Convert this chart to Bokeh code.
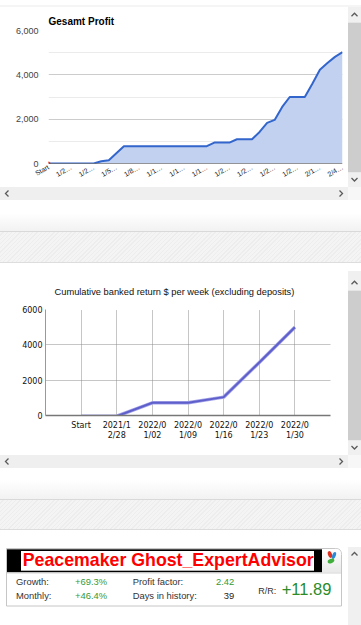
import math
from bokeh.plotting import figure
from bokeh.models import Range1d, FixedTicker, NumeralTickFormatter, Span, Div
from bokeh.layouts import column, row
from bokeh.embed import file_html
from bokeh.resources import INLINE

# ---------------- data ----------------
# Chart 1: "Gesamt Profit" (cumulative profit per step)
profit_index = list(range(40))
profit_values = [0, 0, 0, 0, 0, 0, 0, 100, 150, 465,
                 780, 780, 780, 780, 780, 780, 780, 780, 780, 780,
                 780, 780, 945, 945, 945, 1095, 1095, 1095, 1425, 1830,
                 1965, 2550, 3000, 3000, 3000, 3600, 4230, 4530, 4810, 5020]
profit_tick_pos = [0, 3, 6, 9, 12, 15, 18, 21, 24, 27, 30, 33, 36, 39]
profit_tick_labels = ["Start", "1/2…", "1/2…", "1/5…", "1/8…", "1/1…", "1/1…",
                      "1/1…", "1/2…", "1/2…", "1/2…", "1/2…", "2/1…", "2/4…"]
profit_y_ticks = [0, 2000, 4000, 6000]
profit_y_minor = [1000, 3000, 5000]

# Chart 2: cumulative banked return $ per week
weekly_labels = ["Start", "2021/1\n2/28", "2022/0\n1/02", "2022/0\n1/09",
                 "2022/0\n1/16", "2022/0\n1/23", "2022/0\n1/30"]
weekly_values = [-40, -40, 720, 720, 1040, 3000, 5000]
weekly_y_ticks = [0, 2000, 4000, 6000]

# Stats box
ea_name = "Peacemaker Ghost_ExpertAdvisor"
stat_growth = "+69.3%"
stat_monthly = "+46.4%"
stat_profit_factor = "2.42"
stat_days = "39"
stat_rr = "+11.89"

# ---------------- chart 1 ----------------
p1 = figure(width=348, height=180, x_range=Range1d(0, 39), y_range=Range1d(0, 6000),
            output_backend="svg", toolbar_location=None, title="Gesamt Profit",
            min_border_left=48, min_border_right=6, min_border_top=23, min_border_bottom=24)
p1.title.align = "left"
p1.title.text_font = "Liberation Sans"
p1.title.text_font_style = "bold"
p1.title.text_font_size = "10px"
p1.title.text_color = "#000000"
p1.title.standoff = 8
p1.outline_line_color = None
p1.background_fill_color = "white"
p1.border_fill_color = "white"
p1.varea(x=profit_index, y1=[0] * len(profit_index), y2=profit_values, fill_color="#c2d1f0")
p1.line(profit_index, profit_values, line_color="#3366cc", line_width=2)
p1.add_layout(Span(location=0, dimension="width", line_color="#333333", line_width=1))
p1.scatter([profit_index[0]], [profit_values[0]], size=3, color="#ff2a00")

p1.xaxis.ticker = FixedTicker(ticks=profit_tick_pos)
p1.xaxis.major_label_overrides = {t: l for t, l in zip(profit_tick_pos, profit_tick_labels)}
p1.xaxis.major_label_orientation = math.pi / 6
p1.xaxis.axis_line_color = None
p1.xaxis.major_tick_line_color = None
p1.xaxis.minor_tick_line_color = None
p1.xaxis.major_tick_out = 0
p1.xaxis.minor_tick_out = 0
p1.xaxis.major_label_standoff = 3
p1.xaxis.major_label_text_font = "Liberation Sans"
p1.xaxis.major_label_text_font_size = "7px"
p1.xaxis.major_label_text_color = "#222222"

p1.yaxis.ticker = FixedTicker(ticks=profit_y_ticks, minor_ticks=profit_y_minor)
p1.yaxis.formatter = NumeralTickFormatter(format="0,0")
p1.yaxis.axis_line_color = None
p1.yaxis.major_tick_line_color = None
p1.yaxis.minor_tick_line_color = None
p1.yaxis.major_tick_out = 0
p1.yaxis.minor_tick_out = 0
p1.yaxis.major_label_standoff = 10
p1.yaxis.major_label_text_font = "Liberation Sans"
p1.yaxis.major_label_text_font_size = "9px"
p1.yaxis.major_label_text_color = "#444444"
p1.xgrid.grid_line_color = None
p1.ygrid.grid_line_color = "#cccccc"
p1.ygrid.minor_grid_line_color = "#ebebeb"

# ---------------- chart 2 ----------------
wx = list(range(len(weekly_labels)))
p2 = figure(width=348, height=184, x_range=Range1d(-1, len(weekly_labels)), y_range=Range1d(0, 6000),
            output_backend="svg", toolbar_location=None,
            title="Cumulative banked return $ per week (excluding deposits)",
            min_border_left=45, min_border_right=18, min_border_top=38, min_border_bottom=40)
p2.title.align = "left"
p2.title.offset = 9
p2.title.text_font = "Liberation Sans"
p2.title.text_font_style = "normal"
p2.title.text_font_size = "9.3px"
p2.title.text_color = "#111111"
p2.title.standoff = 26
p2.outline_line_color = None
p2.background_fill_color = "white"
p2.border_fill_color = "white"
p2.line(wx, weekly_values, line_color="#a3a3e8", line_width=3.5)
p2.line(wx, weekly_values, line_color="#5f5fcc", line_width=2)

p2.xaxis.ticker = FixedTicker(ticks=wx)
p2.xaxis.major_label_overrides = {t: l for t, l in zip(wx, weekly_labels)}
p2.xaxis.axis_line_color = "#777777"
p2.xaxis.axis_line_width = 1.5
p2.xaxis.major_tick_line_color = None
p2.xaxis.minor_tick_line_color = None
p2.xaxis.major_tick_out = 0
p2.xaxis.minor_tick_out = 0
p2.xaxis.major_label_standoff = 5
p2.xaxis.major_label_text_font = "DejaVu Sans"
p2.xaxis.major_label_text_font_size = "8px"
p2.xaxis.major_label_text_color = "#111111"

p2.yaxis.ticker = FixedTicker(ticks=weekly_y_ticks)
p2.yaxis.axis_line_color = "#999999"
p2.yaxis.major_tick_line_color = None
p2.yaxis.minor_tick_line_color = None
p2.yaxis.major_tick_out = 0
p2.yaxis.minor_tick_out = 0
p2.yaxis.major_label_standoff = 3
p2.yaxis.major_label_text_font = "DejaVu Sans"
p2.yaxis.major_label_text_font_size = "8px"
p2.yaxis.major_label_text_color = "#111111"

p2.xgrid.ticker = FixedTicker(ticks=wx + [len(weekly_labels)])
p2.xgrid.grid_line_color = "#8c8c8c"
p2.xgrid.grid_line_dash = "1 1"
p2.ygrid.ticker = FixedTicker(ticks=[2000, 4000, 6000])
p2.ygrid.grid_line_color = "#8c8c8c"
p2.ygrid.grid_line_dash = "1 1"

# ---------------- page chrome ----------------
CH = "#5a5a5a"


def vscroll(h, thumb=True, top=15.7, tlen=149.5):
    t = f'<rect x="0" y="{top}" width="13" height="{tlen}" fill="#cdcdcd"/>' if thumb else ''
    up_y = top - 8
    down = (f'<polyline points="3.5,{h-9} 6.5,{h-6} 9.5,{h-9}" fill="none" stroke="{CH}" stroke-width="1.3"/>'
            if thumb else '')
    svg = (f'<svg width="13" height="{h}" style="display:block">'
           f'<rect x="0" y="0" width="13" height="{h}" fill="#f0f0f0"/>{t}'
           f'<polyline points="3.5,{up_y+1.5} 6.5,{up_y-1.5} 9.5,{up_y+1.5}" fill="none" stroke="{CH}" stroke-width="1.3"/>'
           f'{down}</svg>')
    return Div(text=svg, width=13, height=h, margin=0, styles={"overflow": "hidden"})


def hscroll():
    svg = ('<svg width="361" height="13" style="display:block">'
           '<rect x="0" y="0" width="348" height="13" fill="#efefef"/>'
           '<rect x="348" y="0" width="13" height="13" fill="#f7f7f7"/>'
           f'<polyline points="8.5,3.5 5.5,6.5 8.5,9.5" fill="none" stroke="{CH}" stroke-width="1.3"/>'
           f'<polyline points="339.5,3.5 342.5,6.5 339.5,9.5" fill="none" stroke="{CH}" stroke-width="1.3"/>'
           '</svg>')
    return Div(text=svg, width=361, height=13, margin=0, styles={"overflow": "hidden"})


def sep(w1, g, hh, w2):
    total = w1 + g + hh + 2 + w2
    html = (f'<div style="width:361px;height:{w1}px;background:#ffffff"></div>'
            f'<div style="width:361px;height:{g}px;background:linear-gradient(#ffffff,#f2f2f2)"></div>'
            f'<div style="width:361px;height:{hh}px;border-top:1px solid #d9d9d9;border-bottom:1px solid #dddddd;'
            'background:repeating-linear-gradient(135deg,#f4f4f4 0px,#f4f4f4 2px,#ededed 2px,#ededed 3px)"></div>'
            f'<div style="width:361px;height:{w2}px;background:#ffffff"></div>')
    return Div(text=html, width=361, height=total, margin=0, styles={"overflow": "hidden"})


top_strip = Div(text='<div style="width:361px;height:7px;background:#f5f5f5"></div>',
                width=361, height=7, margin=0, styles={"overflow": "hidden"})

LBL = "#333333"
GRN = "#349a34"
F = 'font-family="Liberation Sans, Arial, sans-serif"'
stats_svg = (
    '<svg width="348" height="78" style="display:block">'
    '<defs><linearGradient id="hg" x1="0" y1="0" x2="0" y2="1">'
    '<stop offset="0" stop-color="#ffffff"/><stop offset="1" stop-color="#e9e9e9"/></linearGradient></defs>'
    '<rect x="0" y="0" width="348" height="78" fill="#ffffff"/>'
    '<path d="M6.5,1.5 H335.5 Q341.5,1.5 341.5,7.5 V59 H6.5 Z" fill="#ffffff" stroke="#c6c6c6"/>'
    '<path d="M322,2 H335.5 Q341,2 341,7.5 V25.5 H322 Z" fill="url(#hg)"/>'
    '<rect x="7" y="2.3" width="315" height="23" fill="#000000"/>'
    '<rect x="21" y="4" width="293" height="19.7" fill="#ffffff"/>'
    f'<text x="22.7" y="19" {F} font-weight="bold" font-size="17.7px" fill="#ff0000" '
    f'textLength="291" lengthAdjust="spacingAndGlyphs">{ea_name}</text>'
    '<line x1="7" y1="26" x2="341" y2="26" stroke="#d4d4d4"/>'
    '<ellipse cx="330" cy="7.5" rx="2" ry="3.5" fill="#e03020" transform="rotate(-20 330 7.5)"/>'
    '<ellipse cx="334" cy="8.5" rx="1.8" ry="3.6" fill="#2a8ad8" transform="rotate(20 334 8.5)"/>'
    '<ellipse cx="331" cy="14" rx="3.5" ry="2.2" fill="#3fae3a" transform="rotate(-25 331 14)"/>'
    f'<text x="16" y="38.3" {F} font-size="9.4px" fill="{LBL}">Growth:</text>'
    f'<text x="75" y="38.3" {F} font-size="9.4px" fill="{GRN}">{stat_growth}</text>'
    f'<text x="132.7" y="38.3" {F} font-size="9.4px" fill="{LBL}">Profit factor:</text>'
    f'<text x="234.3" y="38.3" {F} font-size="9.4px" fill="{GRN}" text-anchor="end">{stat_profit_factor}</text>'
    f'<text x="16" y="52.3" {F} font-size="9.4px" fill="{LBL}">Monthly:</text>'
    f'<text x="75" y="52.3" {F} font-size="9.4px" fill="{GRN}">{stat_monthly}</text>'
    f'<text x="132.7" y="52.3" {F} font-size="9.4px" fill="{LBL}">Days in history:</text>'
    f'<text x="234.3" y="52.3" {F} font-size="9.4px" fill="#222222" text-anchor="end">{stat_days}</text>'
    f'<text x="258.3" y="47.3" {F} font-size="9px" fill="{LBL}">R/R:</text>'
    f'<text x="281.7" y="48.3" {F} font-size="16.5px" fill="#2a8c2a">{stat_rr}</text>'
    '</svg>'
)
stats = Div(text=stats_svg, width=348, height=78, margin=0, styles={"overflow": "hidden"})

layout = column(
    top_strip,
    row(p1, vscroll(180), spacing=0),
    hscroll(),
    sep(13, 18, 32, 6),
    row(p2, vscroll(184, top=19.7, tlen=149.5), spacing=0),
    hscroll(),
    sep(12, 19, 31, 15),
    row(stats, vscroll(78, thumb=False, top=15), spacing=0),
    spacing=0,
)

open("out.html", "w").write(file_html(layout, INLINE))
